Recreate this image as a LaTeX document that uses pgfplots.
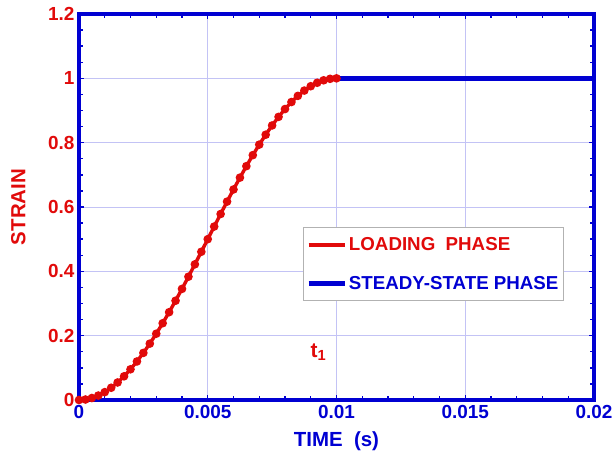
\documentclass[border=0pt]{standalone}
\usepackage{pgfplots}
\pgfplotsset{compat=1.18}
\usepackage{fontspec}
\setmainfont{Liberation Sans}
\definecolor{myred}{RGB}{225,10,10}
\definecolor{myblue}{RGB}{0,0,210}
\definecolor{mygrid}{RGB}{195,195,245}
\begin{document}
\begin{tikzpicture}
\begin{axis}[
  scale only axis,
  width=515bp, height=386bp,
  xmin=0, xmax=0.02, ymin=0, ymax=1.2,
  scaled x ticks=false, scaled y ticks=false,
  xtick={0,0.005,0.01,0.015,0.02},
  xticklabels={0,0.005,0.01,0.015,0.02},
  ytick={0,0.2,0.4,0.6,0.8,1,1.2},
  yticklabels={0,0.2,0.4,0.6,0.8,1,1.2},
  minor x tick num=4, minor y tick num=3,
  tick align=inside,
  xtick pos=both, ytick pos=both,
  axis line style={myblue, line width=3.5bp},
  every tick/.style={myblue, line width=1.4bp},
  major tick length=5bp, minor tick length=4bp,
  grid=major,
  major grid style={mygrid, line width=0.9bp},
  x tick label style={text=myblue, font=\fontsize{19}{21}\selectfont\bfseries, yshift=-2bp},
  y tick label style={text=myred, font=\fontsize{19}{21}\selectfont\bfseries, xshift=-1bp},
  xlabel={TIME\ \ (s)},
  ylabel={STRAIN},
  x label style={at={(axis description cs:0.5,-0.106)}, anchor=center, text=myblue, font=\fontsize{20.5}{22}\selectfont\bfseries},
  y label style={at={(axis description cs:-0.118,0.5)}, anchor=center, rotate=0, text=myred, font=\fontsize{20.5}{22}\selectfont\bfseries},
  legend style={at={(axis description cs:0.435,0.448)}, anchor=north west,
    draw=gray!60, line width=0.9bp, fill=white,
    font=\fontsize{18.8}{20}\selectfont\bfseries,
    inner xsep=3bp, inner ysep=8bp, row sep=20bp,
    cells={anchor=west}},
  legend image code/.code={\draw[#1, mark=none] (0bp,0bp) -- (36bp,0bp);},
]
\addplot[myred, line width=3.4bp, mark=*, mark size=2.5bp, mark options={draw=myred, fill=myred}] coordinates {
(0,0) (0.00025,0.00154) (0.0005,0.00616) (0.00075,0.01382) (0.001,0.02447)
(0.00125,0.03806) (0.0015,0.05450) (0.00175,0.07368) (0.002,0.09549)
(0.00225,0.11980) (0.0025,0.14645) (0.00275,0.17527) (0.003,0.20611)
(0.00325,0.23875) (0.0035,0.27300) (0.00375,0.30866) (0.004,0.34549)
(0.00425,0.38328) (0.0045,0.42178) (0.00475,0.46077) (0.005,0.5)
(0.00525,0.53923) (0.0055,0.57822) (0.00575,0.61672) (0.006,0.65451)
(0.00625,0.69134) (0.0065,0.72700) (0.00675,0.76125) (0.007,0.79389)
(0.00725,0.82473) (0.0075,0.85355) (0.00775,0.88020) (0.008,0.90451)
(0.00825,0.92632) (0.0085,0.94550) (0.00875,0.96194) (0.009,0.97553)
(0.00925,0.98618) (0.0095,0.99384) (0.00975,0.99846) (0.01,1)
};
\addlegendentry{\textcolor{myred}{LOADING\ \ PHASE}}
\addplot[myblue, line width=4.5bp] coordinates {(0.01,1) (0.02,1)};
\addlegendentry{\textcolor{myblue}{STEADY-STATE PHASE}}
\node[text=myred, font=\fontsize{21}{23}\selectfont\bfseries] at (axis cs:0.0093,0.148) {t\textsubscript{1}};
\end{axis}
\pgfresetboundingbox
\path[use as bounding box] (current axis.south west) ++(-79bp,-62bp) rectangle ([shift={(22bp,14bp)}]current axis.north east);
\end{tikzpicture}
\end{document}
